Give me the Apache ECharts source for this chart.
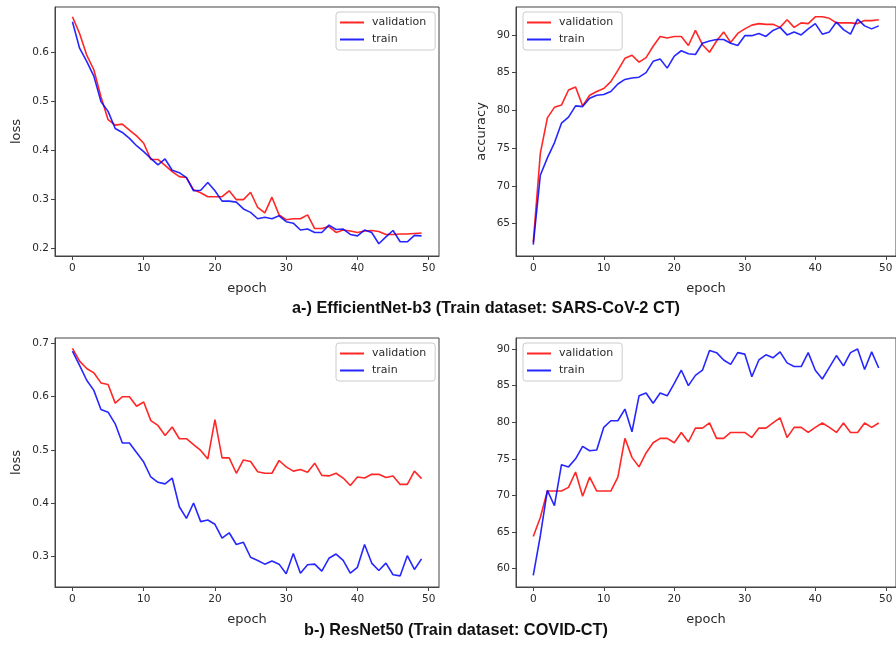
<!DOCTYPE html>
<html>
<head>
<meta charset="utf-8">
<script src="https://cdn.jsdelivr.net/npm/echarts@6.0.0/dist/echarts.min.js"></script>
<style>
  html, body { margin: 0; padding: 0; background: #fff; }
  #chart { width: 896px; height: 645px; }
</style>
</head>
<body>
<div id="chart"></div>
<script>
// ---- data (epochs 0..49) ----
const effLossVal = [0.673,0.639,0.595,0.565,0.51,0.463,0.452,0.454,0.442,0.43,
  0.415,0.382,0.382,0.37,0.357,0.347,0.345,0.32,0.314,0.306,
  0.306,0.306,0.318,0.30,0.30,0.315,0.284,0.273,0.305,0.269,
  0.259,0.261,0.261,0.269,0.241,0.241,0.245,0.233,0.238,0.236,
  0.233,0.236,0.237,0.235,0.229,0.229,0.23,0.23,0.231,0.232];
const effLossTrain = [0.663,0.609,0.582,0.552,0.50,0.48,0.445,0.437,0.425,0.41,
  0.398,0.384,0.371,0.383,0.36,0.355,0.345,0.318,0.319,0.335,
  0.318,0.297,0.297,0.295,0.281,0.274,0.261,0.264,0.261,0.267,
  0.255,0.252,0.238,0.24,0.233,0.233,0.248,0.239,0.24,0.229,
  0.226,0.238,0.233,0.21,0.224,0.237,0.214,0.214,0.227,0.226];
const effAccVal = [62.5,74.3,79.0,80.4,80.7,82.7,83.1,80.6,82.0,82.5,
  82.9,83.8,85.3,86.9,87.3,86.4,87.0,88.5,89.8,89.6,
  89.8,89.8,88.6,90.6,88.7,87.7,89.2,90.4,89.0,90.2,
  90.8,91.3,91.5,91.4,91.4,91.0,92.0,91.0,91.6,91.5,
  92.4,92.4,92.2,91.6,91.6,91.6,91.5,91.9,91.9,92.0];
const effAccTrain = [62.2,71.4,73.7,75.7,78.3,79.1,80.6,80.5,81.6,82.0,
  82.1,82.5,83.5,84.1,84.3,84.4,85.0,86.5,86.8,85.6,
  87.2,87.9,87.5,87.4,88.9,89.2,89.4,89.4,88.9,88.6,
  89.9,89.9,90.2,89.8,90.6,91.0,90.0,90.4,90.0,90.8,
  91.5,90.1,90.4,91.7,90.7,90.1,92.1,91.2,90.8,91.2];
const resLossVal = [0.691,0.667,0.653,0.645,0.626,0.623,0.588,0.60,0.60,0.582,
  0.59,0.555,0.546,0.527,0.543,0.521,0.521,0.51,0.499,0.483,
  0.557,0.485,0.485,0.456,0.481,0.478,0.459,0.456,0.456,0.48,
  0.468,0.46,0.463,0.458,0.475,0.452,0.451,0.456,0.447,0.433,
  0.449,0.447,0.454,0.454,0.448,0.451,0.435,0.435,0.46,0.446];
const resLossTrain = [0.686,0.659,0.631,0.612,0.576,0.571,0.549,0.513,0.513,0.495,
  0.477,0.449,0.439,0.436,0.447,0.393,0.371,0.40,0.365,0.368,
  0.36,0.334,0.344,0.322,0.326,0.298,0.292,0.285,0.291,0.285,
  0.267,0.305,0.268,0.284,0.285,0.272,0.296,0.304,0.292,0.268,
  0.279,0.322,0.287,0.273,0.287,0.265,0.263,0.301,0.275,0.295];
const resAccVal = [64.4,67.0,70.6,70.6,70.6,71.1,73.2,69.9,72.5,70.6,
  70.6,70.6,72.5,77.8,75.2,73.9,75.8,77.2,77.8,77.8,
  77.2,78.6,77.3,79.2,79.2,79.9,77.8,77.8,78.6,78.6,
  78.6,77.9,79.2,79.2,79.9,80.6,77.9,79.3,79.3,78.6,
  79.3,79.9,79.3,78.6,79.9,78.6,78.6,79.9,79.3,79.9];
const resAccTrain = [59.1,64.5,70.7,68.6,74.2,73.9,75.0,76.7,76.1,76.2,
  79.3,80.2,80.2,81.8,78.7,83.6,84.0,82.6,84.0,83.6,
  85.3,87.1,85.0,86.4,87.1,89.8,89.5,88.5,87.9,89.5,
  89.3,86.2,88.5,89.2,88.8,89.6,88.1,87.6,87.6,89.5,
  87.1,85.9,87.5,89.1,87.7,89.5,90.0,87.2,89.6,87.4];

const epochTicks = [0, 10, 20, 30, 40, 50];
const lossTicksA = [0.2, 0.3, 0.4, 0.5, 0.6];
const accTicksA = [65, 70, 75, 80, 85, 90];
const lossTicksB = [0.3, 0.4, 0.5, 0.6, 0.7];
const accTicksB = [60, 65, 70, 75, 80, 85, 90];

const titleA = 'a-) EfficientNet-b3 (Train dataset: SARS-CoV-2 CT)';
const titleB = 'b-) ResNet50 (Train dataset: COVID-CT)';

// ---- styling helpers ----
const tickFont = { color: '#2a2a2a', fontSize: 10.5, fontFamily: 'DejaVu Sans' };
const nameFont = { color: '#2a2a2a', fontSize: 13, fontFamily: 'DejaVu Sans' };
const axisCol = '#444';
const subFont = 'bold 16.3px "Liberation Sans", Arial, sans-serif';

const panels = [
  { left: 55,  top: 7,   width: 384, val: effLossVal, train: effLossTrain, ticks: lossTicksA, min: 0.185, max: 0.693, yName: 'loss', nameGap: 32, dec: 1, legendLeft: 336 },
  { left: 516, top: 7,   width: 386, val: effAccVal,  train: effAccTrain,  ticks: accTicksA,  min: 60.7,  max: 93.7,  yName: 'accuracy', nameGap: 28, dec: 0, legendLeft: 523 },
  { left: 55,  top: 338, width: 384, val: resLossVal, train: resLossTrain, ticks: lossTicksB, min: 0.242, max: 0.7105, yName: 'loss', nameGap: 32, dec: 1, legendLeft: 336 },
  { left: 516, top: 338, width: 386, val: resAccVal,  train: resAccTrain,  ticks: accTicksB,  min: 57.5,  max: 91.5,  yName: '', nameGap: 28, dec: 0, legendLeft: 523 }
];

const grid = [], xAxis = [], yAxis = [], series = [], legend = [];

panels.forEach(function (p, i) {
  grid.push({
    left: p.left, top: p.top, width: p.width, height: 249,
    show: true, borderColor: axisCol, borderWidth: 1
  });
  xAxis.push({
    type: 'value', gridIndex: i, min: -2.45, max: 51.45,
    splitLine: { show: false },
    axisLine: { show: true, onZero: false, lineStyle: { color: axisCol } },
    axisTick: { show: true, length: 4, customValues: epochTicks, lineStyle: { color: axisCol } },
    axisLabel: { customValues: epochTicks, margin: 7, ...tickFont },
    name: 'epoch', nameLocation: 'middle', nameGap: 26, nameTextStyle: nameFont
  });
  yAxis.push({
    type: 'value', gridIndex: i, min: p.min, max: p.max,
    splitLine: { show: false },
    axisLine: { show: true, onZero: false, lineStyle: { color: axisCol } },
    axisTick: { show: true, length: 4, customValues: p.ticks, lineStyle: { color: axisCol } },
    axisLabel: {
      customValues: p.ticks, margin: 6, ...tickFont,
      formatter: function (v) { return v.toFixed(p.dec); }
    },
    name: p.yName, nameLocation: 'middle', nameGap: p.nameGap, nameTextStyle: nameFont
  });
  series.push({
    name: 'validation', type: 'line', xAxisIndex: i, yAxisIndex: i,
    symbol: 'none', data: p.val.map(function (v, e) { return [e, v]; }),
    lineStyle: { color: 'rgba(255,0,0,0.85)', width: 1.6 },
    itemStyle: { color: 'rgba(255,0,0,0.85)' }
  });
  series.push({
    name: 'train', type: 'line', xAxisIndex: i, yAxisIndex: i,
    symbol: 'none', data: p.train.map(function (v, e) { return [e, v]; }),
    lineStyle: { color: 'rgba(0,0,255,0.85)', width: 1.6 },
    itemStyle: { color: 'rgba(0,0,255,0.85)' }
  });
  legend.push({
    data: ['validation', 'train'], orient: 'vertical',
    left: p.legendLeft, top: p.top + 5,
    icon: 'rect', itemWidth: 24, itemHeight: 2, itemGap: 4,
    padding: [4, 9, 4, 4],
    borderColor: '#ccc', borderWidth: 1, borderRadius: 3, backgroundColor: '#fff',
    textStyle: { color: '#2a2a2a', fontSize: 11, fontFamily: 'DejaVu Sans', lineHeight: 13, padding: [0, 0, 0, 3] }
  });
});

const chart = echarts.init(document.getElementById('chart'), null, { renderer: 'canvas' });
chart.setOption({
  animation: false,
  backgroundColor: '#fff',
  grid: grid, xAxis: xAxis, yAxis: yAxis, series: series, legend: legend,
  graphic: [
    { type: 'text', x: 486, y: 309, style: { text: titleA, align: 'center', verticalAlign: 'middle', fill: '#111', font: subFont } },
    { type: 'text', x: 456, y: 631, style: { text: titleB, align: 'center', verticalAlign: 'middle', fill: '#111', font: subFont } }
  ]
});
</script>
</body>
</html>
